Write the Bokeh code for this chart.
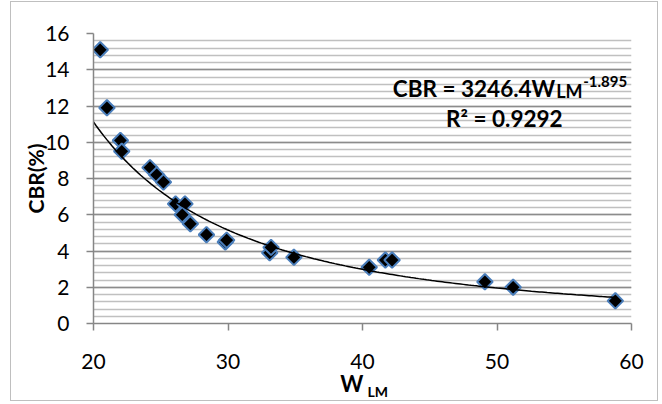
import numpy as np
from bokeh.plotting import figure
from bokeh.models import Range1d, SingleIntervalTicker, FixedTicker, Label, LinearAxis
from bokeh.embed import file_html
from bokeh.resources import INLINE

# data
w_lm = [20.5, 21.0, 22.0, 22.1, 24.2, 24.7, 25.2, 26.1, 26.8, 26.6, 27.2, 28.4,
        29.8, 29.9, 33.1, 33.2, 34.9, 40.5, 41.7, 42.2, 49.1, 51.2, 58.8]
cbr = [15.1, 11.9, 10.1, 9.5, 8.6, 8.2, 7.8, 6.6, 6.6, 6.0, 5.5, 4.9,
       4.5, 4.6, 3.9, 4.2, 3.65, 3.1, 3.5, 3.5, 2.3, 2.0, 1.25]

# power trendline shown in the chart: CBR = a * W^b
coef_a = 3246.4
coef_b = -1.895
r_squared = 0.9292
trend_x_start, trend_x_end = 20.0, 58.8

FONT = "Lato"
NB = "\u00a0"

p = figure(width=648, height=400, output_backend="svg", toolbar_location=None,
           x_range=Range1d(20, 60), y_range=Range1d(0, 16),
           min_border_left=82, min_border_top=31, min_border_right=28,
           min_border_bottom=77)
p.margin = (1, 0, 0, 10)
p.styles = {"border": "1px solid #bfbfbf"}
p.outline_line_color = None
p.background_fill_color = "white"
p.border_fill_color = "white"

p.xaxis.ticker = SingleIntervalTicker(interval=10, num_minor_ticks=0)
p.yaxis.ticker = SingleIntervalTicker(interval=2, num_minor_ticks=5)
p.xgrid.grid_line_color = None
p.ygrid.grid_line_color = "#8c8c8c"
p.ygrid.grid_line_width = 1.5
p.ygrid.minor_grid_line_color = "#c0c0c0"
p.ygrid.minor_grid_line_width = 1.5

for ax in (p.xaxis, p.yaxis):
    ax.axis_line_color = "#868686"
    ax.axis_line_width = 1.5
    ax.major_tick_line_color = "#868686"
    ax.major_tick_line_width = 1.5
    ax.major_tick_out = 7
    ax.major_tick_in = 0
    ax.minor_tick_line_color = None
    ax.major_label_text_font = FONT
    ax.major_label_text_font_size = "21px"
    ax.major_label_text_color = "black"

p.xaxis.major_label_standoff = 23
p.yaxis.major_label_standoff = 17
p.yaxis.axis_label = "CBR(%)"
p.yaxis.axis_label_text_font = FONT
p.yaxis.axis_label_text_font_style = "bold"
p.yaxis.axis_label_text_font_size = "21px"
p.yaxis.axis_label_standoff = -6
p.yaxis.axis_label_text_color = "black"

# x axis title: "W" with subscript "LM"
p.xaxis.axis_label = "W" + NB * 4
p.xaxis.axis_label_text_font = FONT
p.xaxis.axis_label_text_font_style = "bold"
p.xaxis.axis_label_text_font_size = "22px"
p.xaxis.axis_label_text_line_height = 1.0
p.xaxis.axis_label_standoff = -2
p.xaxis.axis_label_text_color = "black"

sub_axis = LinearAxis(ticker=FixedTicker(ticks=[]), axis_line_color=None,
                      major_tick_line_color=None, minor_tick_line_color=None,
                      major_tick_out=0, major_label_standoff=0,
                      axis_label=NB * 9 + "LM", axis_label_text_font=FONT,
                      axis_label_text_font_style="bold", axis_label_text_font_size="14px",
                      axis_label_text_line_height=1.0,
                      axis_label_text_color="black", axis_label_standoff=-17)
p.add_layout(sub_axis, "below")

p.scatter(w_lm, cbr, marker="square", angle=np.pi / 4, size=11,
          fill_color="black", line_color="#4a7ebb", line_width=2)

tx = np.linspace(trend_x_start, trend_x_end, 200)
ty = coef_a * tx ** coef_b
p.line(tx, ty, line_color="black", line_width=1.5)

# equation
p.add_layout(Label(x=54.33, y=12.99, text="CBR = 3246.4W", text_align="right", text_baseline="alphabetic",
                   text_font=FONT, text_font_style="bold", text_font_size="22.5px", text_color="black"))
p.add_layout(Label(x=54.4, y=12.82, text="LM", text_align="left", text_baseline="alphabetic",
                   text_font=FONT, text_font_style="bold", text_font_size="18px", text_color="black"))
p.add_layout(Label(x=56.41, y=13.37, text="-1.895", text_align="left", text_baseline="alphabetic",
                   text_font=FONT, text_font_style="bold", text_font_size="15px", text_color="black"))
p.add_layout(Label(x=46.21, y=11.29, text=f"R² = {r_squared}", text_align="left", text_baseline="alphabetic",
                   text_font=FONT, text_font_style="bold", text_font_size="22.5px", text_color="black"))

open("out.html", "w").write(file_html(p, INLINE))
